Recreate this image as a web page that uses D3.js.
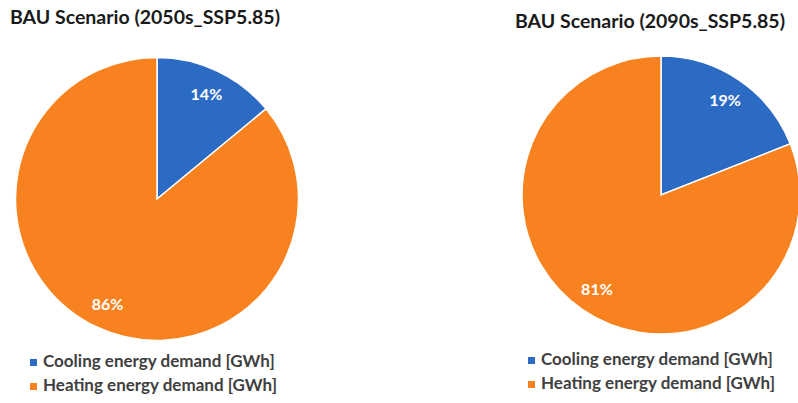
<!DOCTYPE html>
<html>
<head>
<meta charset="utf-8">
<script src="https://cdn.jsdelivr.net/npm/d3@7"></script>
<style>
  html, body { margin: 0; padding: 0; background: #fff; }
  svg { display: block; }
  text { font-family: Lato, "Open Sans", sans-serif; font-weight: bold; }
</style>
</head>
<body>
<svg id="chart" width="798" height="403"></svg>
<script>
// Share of demand by type, per scenario period (percent)
const categories = ["Cooling energy demand [GWh]", "Heating energy demand [GWh]"];
const titles = ["BAU Scenario (2050s_SSP5.85)", "BAU Scenario (2090s_SSP5.85)"];
const values2050s = [14, 86];
const values2090s = [19, 81];

const colors = d3.scaleOrdinal().domain(categories).range(["#2C6BC4", "#F7821F"]);
const svg = d3.select("#chart");

const panels = [
  { title: titles[0], values: values2050s, cx: 157, cy: 199, r: 141.5,
    titleX: 10, titleY: 24, legX: 30, legY: 367 },
  { title: titles[1], values: values2090s, cx: 661, cy: 195, r: 139,
    titleX: 515, titleY: 28, legX: 528, legY: 365 }
];

const pie = d3.pie().sort(null).value(d => d.v);

panels.forEach(p => {
  const g = svg.append("g");
  g.append("text")
    .attr("x", p.titleX).attr("y", p.titleY)
    .attr("font-size", 19.5).attr("fill", "#1a1a1a")
    .text(p.title);

  const data = pie(categories.map((c, i) => ({ c, v: p.values[i] })));
  const arc = d3.arc().innerRadius(0).outerRadius(p.r);
  const labelArc = d3.arc().innerRadius(p.r * 0.82).outerRadius(p.r * 0.82);

  const pg = g.append("g").attr("transform", `translate(${p.cx},${p.cy})`);
  pg.selectAll("path").data(data).join("path")
    .attr("d", arc)
    .attr("fill", d => colors(d.data.c))
    .attr("stroke", "#fff").attr("stroke-width", 1.5);

  pg.selectAll("text.lbl").data(data).join("text")
    .attr("class", "lbl")
    .attr("transform", d => `translate(${labelArc.centroid(d)})`)
    .attr("text-anchor", "middle").attr("dy", "0.35em")
    .attr("font-size", 16).attr("fill", "#fff")
    .text(d => d.data.v + "%");

  // legend: baseline of first row at legY
  const lg = g.append("g").attr("transform", `translate(${p.legX},${p.legY})`);
  const items = lg.selectAll("g").data(categories).join("g")
    .attr("transform", (d, i) => `translate(0,${i * 24})`);
  items.append("rect").attr("x", 0).attr("y", -8).attr("width", 7).attr("height", 7)
    .attr("fill", d => colors(d));
  items.append("text").attr("x", 13).attr("y", 0)
    .attr("font-size", 17).attr("fill", "#404040")
    .text(d => d);
});
</script>
</body>
</html>
